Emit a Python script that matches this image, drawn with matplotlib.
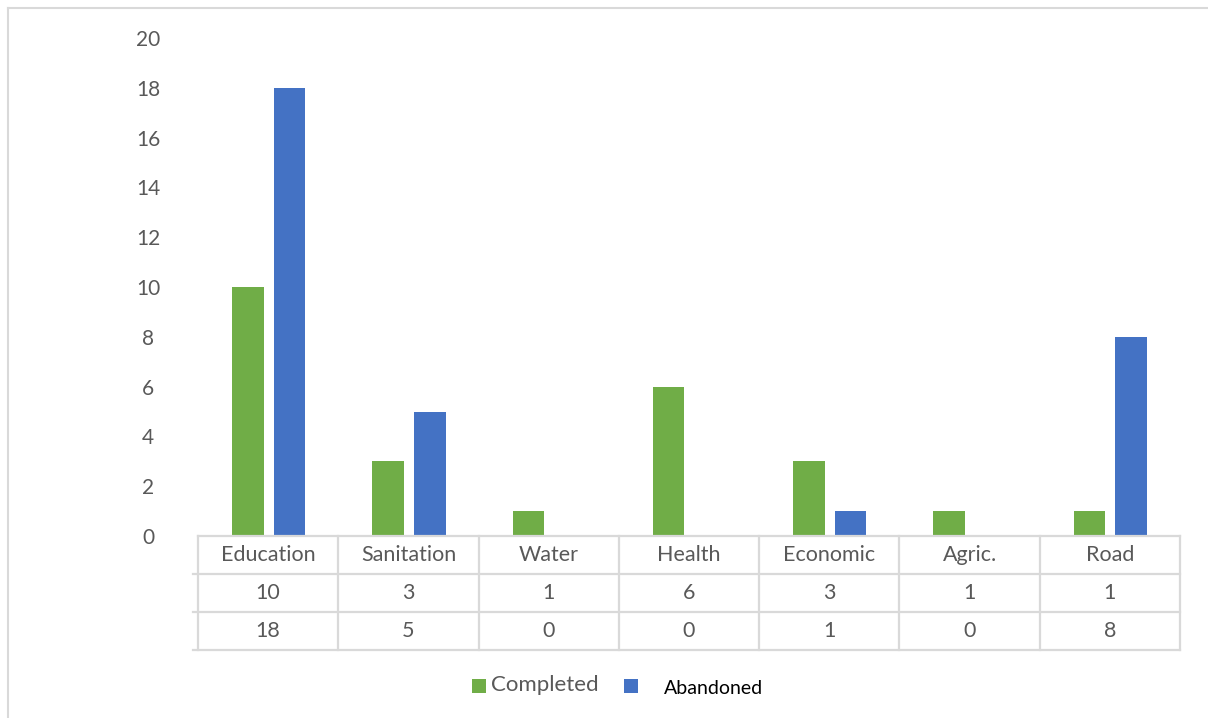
import matplotlib.pyplot as plt
from matplotlib.patches import Rectangle
from matplotlib.lines import Line2D
import numpy as np

categories = ["Education", "Sanitation", "Water", "Health", "Economic", "Agric.", "Road"]
completed = [10, 3, 1, 6, 3, 1, 1]
abandoned = [18, 5, 0, 0, 1, 0, 8]
yticks = [0, 2, 4, 6, 8, 10, 12, 14, 16, 18, 20]

GREEN = "#70AD47"
BLUE = "#4472C4"
GRID = "#D9D9D9"
TXT = "#595959"
FONT = "Lato"

W, H = 1208, 718
fig = plt.figure(figsize=(W / 100, H / 100), dpi=100)
fig.patch.set_facecolor("white")


def fx(px):
    return px / W


def fy(py):
    return 1 - py / H


# outer chart border (top and left visible)
fig.add_artist(Line2D([fx(8), 1.0], [fy(8), fy(8)], color=GRID, lw=1.5))
fig.add_artist(Line2D([fx(8), fx(8)], [fy(8), 0.0], color=GRID, lw=1.5))

x_left, x_right = 198, 1180
ax = fig.add_axes([fx(x_left), fy(536), fx(x_right - x_left), fy(38) - fy(536)])
x = np.arange(len(categories))
bw = 0.225
ax.bar(x - 0.145, completed, bw, color=GREEN)
ax.bar(x + 0.152, abandoned, bw, color=BLUE)
ax.set_xlim(-0.5, len(categories) - 0.5)
ax.set_ylim(0, 20)
ax.set_yticks(yticks)
ax.set_xticks([])
ax.tick_params(axis="y", length=0, pad=36, labelsize=15, labelcolor=TXT)
for lab in ax.get_yticklabels():
    lab.set_fontfamily(FONT)
    lab.set_horizontalalignment("center")
for s in ax.spines.values():
    s.set_visible(False)

# data table below the plot
tab = fig.add_axes([fx(x_left), fy(650), fx(x_right - x_left), fy(536) - fy(650)])
tab.set_xlim(-0.5, len(categories) - 0.5)
tab.set_ylim(0, 3)
tab.axis("off")
ext = 5 / ((x_right - x_left) / len(categories))
for yy in [0, 1, 2]:
    tab.plot([-0.5 - ext, 6.5], [yy, yy], color=GRID, lw=1.6, clip_on=False)
tab.plot([-0.5, 6.5], [3, 3], color=GRID, lw=1.6, clip_on=False)
for xx in np.arange(-0.5, 7, 1):
    tab.plot([xx, xx], [0, 3], color=GRID, lw=1.6, clip_on=False)
rows = [categories, [str(v) for v in completed], [str(v) for v in abandoned]]
for r, vals in enumerate(rows):
    for i, v in enumerate(vals):
        tab.text(i, 2.5 - r, v, ha="center", va="center", fontsize=15.5,
                 color=TXT, family=FONT)

# legend
fig.add_artist(Rectangle((fx(472), fy(693)), fx(14), fy(679) - fy(693),
                         facecolor=GREEN, edgecolor="none"))
fig.text(fx(491), fy(685), "Completed", ha="left", va="center",
         fontsize=16, color=TXT, family=FONT)
fig.add_artist(Rectangle((fx(624), fy(693)), fx(14), fy(679) - fy(693),
                         facecolor=BLUE, edgecolor="none"))
fig.text(fx(664), fy(689), "Abandoned", ha="left", va="center",
         fontsize=14, color="black", family=FONT)

fig.savefig("out.png", dpi=100)
